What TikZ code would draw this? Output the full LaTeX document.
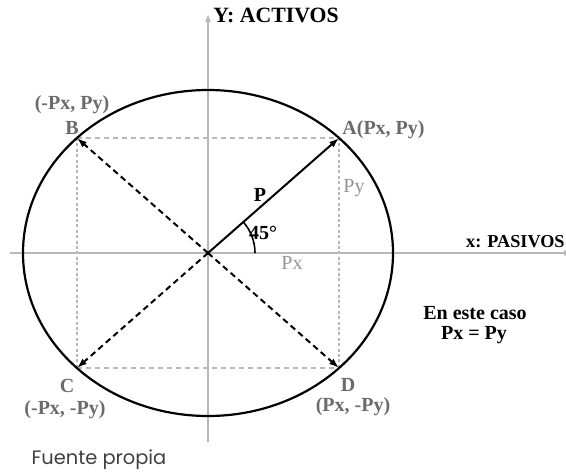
\documentclass[tikz,border=0pt]{standalone}
\usepackage{fontspec}
\setmainfont{Liberation Serif}
\newfontfamily\srcfont{Poppins}
\usetikzlibrary{arrows.meta,calc,positioning}
\definecolor{axisgray}{gray}{0.72}
\definecolor{labgray}{gray}{0.42}
\definecolor{lightlab}{gray}{0.58}
\tikzset{
  lab/.style={inner sep=0pt, font=\bfseries\fontsize{10}{12}\selectfont, text=labgray},
  blk/.style={inner sep=0pt, font=\bfseries\fontsize{10}{12}\selectfont, text=black},
  comp/.style={inner sep=0pt, font=\fontsize{10}{12}\selectfont, text=lightlab},
  guide/.style={axisgray, line width=0.6pt}
}
\begin{document}
\begin{tikzpicture}[x=0.5pt,y=0.5pt]
        \useasboundingbox (-208,-219) rectangle (358,253);
        % Define coordinates
        \coordinate (O) at (0,0);
        \coordinate (A) at (131,115);
        \coordinate (B) at (-131,115);
        \coordinate (C) at (-131,-115);
        \coordinate (D) at (131,-115);
        \coordinate (xs) at (-198,0);
        \coordinate (xe) at (364,0);
        \coordinate (ys) at (0,-189);
        \coordinate (ye) at (0,239);
        % Axes
        \draw[-{Latex[length=4pt,width=3pt]}, axisgray, line width=0.7pt] (xs) -- (xe);
        \draw[-{Latex[length=4pt,width=3pt]}, axisgray, line width=0.7pt] (ys) -- (ye);
        % Projections
        \draw[guide, dash pattern=on 2.5pt off 2pt] (B) -- (A);
        \draw[guide, dash pattern=on 2.5pt off 2pt] (C) -- (D);
        \draw[guide, dash pattern=on 1.5pt off 1.2pt] (A) -- (D);
        \draw[guide, dash pattern=on 1.5pt off 1.2pt] (B) -- (C);
        % Ellipse
        \draw[line width=1.1pt] (O) ellipse [x radius=185, y radius=163];
        % Vectors
        \draw[-{Latex[length=5pt,width=3.5pt]}, line width=1pt] (O) -- (A);
        \draw[-{Latex[length=5pt,width=3.5pt]}, line width=1pt, dash pattern=on 3pt off 2pt] (O) -- (B);
        \draw[-{Latex[length=5pt,width=3.5pt]}, line width=1pt, dash pattern=on 3pt off 2pt] (O) -- (C);
        \draw[-{Latex[length=5pt,width=3.5pt]}, line width=1pt, dash pattern=on 3pt off 2pt] (O) -- (D);
        % Angle
        \draw[line width=0.8pt] (47,0) arc (0:41.3:47);
        % Labels
        \node[blk, anchor=west, font=\bfseries\fontsize{10.9}{13}\selectfont] (ylab) at (5,238) {Y: ACTIVOS};
        \node[blk, anchor=east, font=\bfseries\fontsize{9.1}{11}\selectfont] (xlab) at (357,11) {x: PASIVOS};
        \node[lab] (Bc) at (-136,148) {(-Px, Py)};
        \node[lab] (Bn) at (-136,125) {B};
        \node[lab, anchor=west] (An) at (134,123) {A(Px, Py)};
        \node[lab] (Cn) at (-141,-133) {C};
        \node[lab] (Cc) at (-143,-157) {(-Px, -Py)};
        \node[lab] (Dn) at (140,-132) {D};
        \node[lab] (Dc) at (145,-154) {(Px, -Py)};
        \node[comp] (py) at (146,65) {Py};
        \node[comp] (px) at (84,-10) {Px};
        \node[blk] (p) at (52,58) {P};
        \node[blk] (ang) at (55,20) {45\textdegree};
        \node[blk] (caso) at (267,-60) {En este caso};
        \node[blk] (eq) at (266,-82) {Px = Py};
        \node[inner sep=0pt, text=black!75, font=\srcfont\fontsize{9.7}{11}\selectfont] (src) at (-109,-207) {Fuente propia};
\end{tikzpicture}
\end{document}
